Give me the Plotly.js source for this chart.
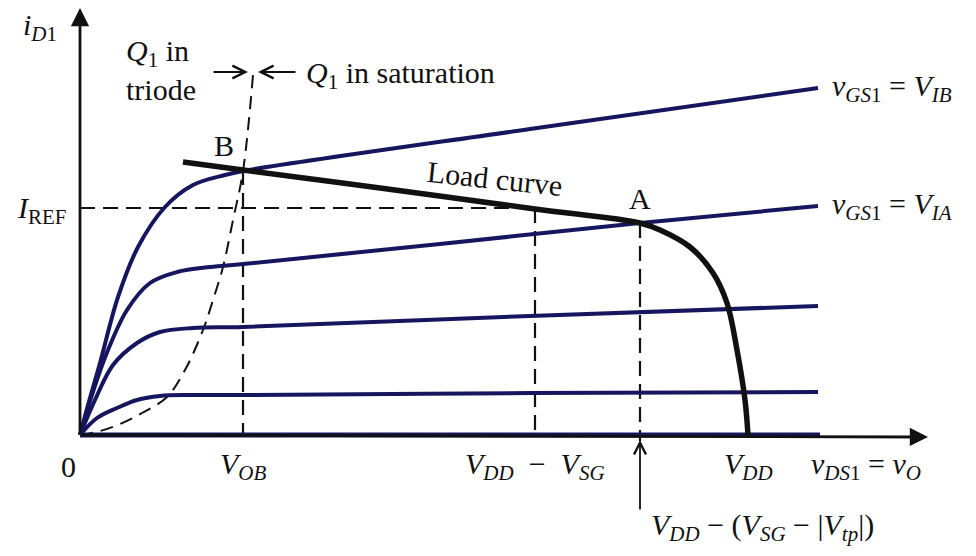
<!DOCTYPE html>
<html>
<head>
<meta charset="utf-8">
<script src="https://cdn.plot.ly/plotly-3.0.1.min.js"></script>
<style>
  html, body { margin: 0; padding: 0; background: #ffffff; }
  #chart { width: 976px; height: 556px; }
</style>
</head>
<body>
<div id="chart"></div>
<script>
// Drain characteristics i_D1 versus v_DS1 (arbitrary units) for several v_GS1 values
const vIB_x = [0, 0.08, 0.20, 0.38, 0.58, 0.85, 1.13, 1.45, 1.63, 4.50, 7.38];
const vIB_y = [0, 0.30, 0.72, 1.38, 1.88, 2.28, 2.50, 2.60, 2.64, 3.06, 3.47];

const vIA_x = [0, 0.12, 0.26, 0.47, 0.70, 0.97, 1.30, 1.63, 3.60, 5.60, 7.38];
const vIA_y = [0, 0.40, 0.80, 1.25, 1.52, 1.63, 1.68, 1.71, 1.91, 2.12, 2.29];

const vG3_x = [0, 0.15, 0.33, 0.57, 0.80, 1.13, 1.63, 4.50, 7.38];
const vG3_y = [0, 0.35, 0.70, 0.92, 1.03, 1.07, 1.08, 1.19, 1.29];

const vG4_x = [0, 0.17, 0.37, 0.57, 0.80, 1.10, 1.63, 4.50, 7.38];
const vG4_y = [0, 0.17, 0.27, 0.35, 0.39, 0.40, 0.40, 0.42, 0.43];

const vG5_x = [0, 7.40];
const vG5_y = [0, 0];

// Load curve of the current-source load (Q2)
const load_x = [1.03, 1.63, 3.00, 4.55, 5.60, 5.80, 6.10, 6.33, 6.47, 6.57, 6.65, 6.68];
const load_y = [2.73, 2.65, 2.47, 2.26, 2.12, 2.05, 1.88, 1.62, 1.32, 0.85, 0.35, 0.00];

// Triode / saturation boundary of Q1
const edge_x = [0, 0.20, 0.40, 0.62, 0.87, 1.05, 1.23, 1.33, 1.43, 1.53, 1.63, 1.73];
const edge_y = [0, 0.04, 0.11, 0.22, 0.38, 0.65, 1.05, 1.35, 1.68, 2.15, 2.64, 3.60];

// Reference levels
const I_REF = 2.27;
const V_OB = 1.63;
const V_DD_minus_VSG = 4.55;
const V_A = 5.60;
const I_A = 2.12;
const I_B = 2.65;
const V_DD = 6.68;

const navy = '#16165e';
const ink = '#111111';
const dashPat = '15px,8px';
const serif = '"Liberation Serif", serif';

function curve(x, y, color, width, dash) {
  return {
    x: x, y: y, type: 'scatter', mode: 'lines', hoverinfo: 'skip',
    line: { color: color, width: width, shape: 'spline', smoothing: 1.0, dash: dash || 'solid' }
  };
}

const traces = [
  // dashed guide lines
  curve([0, V_DD_minus_VSG], [I_REF, I_REF], ink, 2.2, dashPat),
  curve([V_OB, V_OB], [I_B, 0], ink, 2.2, dashPat),
  curve([V_DD_minus_VSG, V_DD_minus_VSG], [I_REF, 0], ink, 2.2, dashPat),
  curve([V_A, V_A], [I_A, -0.06], ink, 2.2, dashPat),
  curve(edge_x, edge_y, ink, 2, '13px,8px'),
  // characteristic curves
  curve(vG5_x, vG5_y, navy, 5),
  curve(vG4_x, vG4_y, navy, 4),
  curve(vG3_x, vG3_y, navy, 4),
  curve(vIA_x, vIA_y, navy, 4),
  curve(vIB_x, vIB_y, navy, 4),
  // load curve
  curve(load_x, load_y, ink, 5.5)
];

function label(x, y, text, opts) {
  return Object.assign({
    x: x, y: y, xref: 'x', yref: 'y', text: text, showarrow: false,
    font: { family: serif, size: 30, color: ink },
    xanchor: 'center', yanchor: 'middle'
  }, opts || {});
}

function arrow(x0, y0, x1, y1, head, width, size) {
  return {
    x: x1, y: y1, ax: x0, ay: y0, xref: 'x', yref: 'y', axref: 'x', ayref: 'y',
    text: '', showarrow: true, arrowhead: head, arrowwidth: width, arrowsize: size,
    arrowcolor: ink
  };
}

const annotations = [
  // axes
  arrow(0, 0, 0, 4.27, 2, 2.8, 1.3),
  arrow(0, 0, 8.48, -0.02, 2, 2.8, 1.3),
  // markers near the top
  arrow(1.32, 3.63, 1.68, 3.63, 5, 1.8, 1.4),
  arrow(2.17, 3.63, 1.78, 3.63, 5, 1.8, 1.4),
  // arrow pointing at V_DD - (V_SG - |V_tp|)
  arrow(V_A, -0.76, V_A, -0.05, 5, 1.8, 1.3),

  label(-0.40, 4.08, '<i>i<sub>D</sub></i><sub>1</sub>'),
  label(-0.38, 2.25, '<i>I</i><sub>REF</sub>'),
  label(-0.12, -0.31, '0'),
  label(V_OB, -0.31, '<i>V<sub>OB</sub></i>'),
  label(V_DD_minus_VSG, -0.31, '<i>V<sub>DD</sub></i>  \u2212  <i>V<sub>SG</sub></i>'),
  label(V_DD, -0.31, '<i>V<sub>DD</sub></i>'),
  label(7.86, -0.31, '<i>v<sub>DS</sub></i><sub>1</sub> = <i>v<sub>O</sub></i>'),
  label(6.82, -0.92, '<i>V<sub>DD</sub></i> \u2212 (<i>V<sub>SG</sub></i> \u2212 |<i>V<sub>tp</sub></i>|)'),
  label(1.44, 2.90, 'B'),
  label(V_A, 2.37, 'A'),
  label(4.15, 2.57, 'Load curve', { textangle: 6 }),
  label(7.50, 3.47, '<i>v<sub>GS</sub></i><sub>1</sub> = <i>V<sub>IB</sub></i>', { xanchor: 'left' }),
  label(7.50, 2.29, '<i>v<sub>GS</sub></i><sub>1</sub> = <i>V<sub>IA</sub></i>', { xanchor: 'left' }),
  label(0.44, 3.65, '<i>Q</i><sub>1</sub> in<br>triode', { xanchor: 'left', align: 'left' }),
  label(2.24, 3.60, '<i>Q</i><sub>1</sub> in saturation', { xanchor: 'left' })
];

const layout = {
  width: 976, height: 556,
  margin: { l: 0, r: 0, t: 0, b: 0 },
  paper_bgcolor: '#ffffff', plot_bgcolor: '#ffffff',
  showlegend: false,
  xaxis: { range: [-0.80, 8.96], visible: false, fixedrange: true },
  yaxis: { range: [-1.21, 4.35], visible: false, fixedrange: true },
  annotations: annotations
};

Plotly.newPlot('chart', traces, layout, { staticPlot: true, displayModeBar: false });
</script>
</body>
</html>
